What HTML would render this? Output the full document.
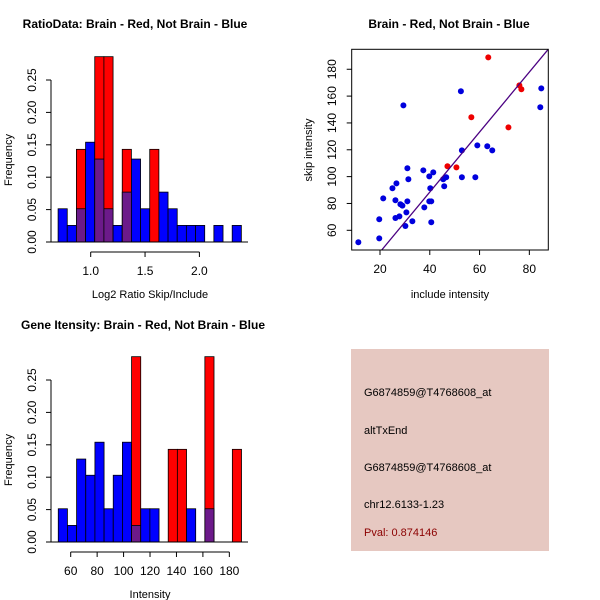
<!DOCTYPE html>
<html><head><meta charset="utf-8"><style>
html,body{margin:0;padding:0;background:#fff}
svg{display:block;font-family:"Liberation Sans",Helvetica,Arial,sans-serif}
</style></head><body>
<svg id="c" width="600" height="600" viewBox="0 0 600 600" xmlns="http://www.w3.org/2000/svg"></svg>
<script>
// ---- Ratio histogram data ----
const ratioStart = 0.70;
const ratioBinWidth = 0.0843;
const ratioBlue = [0.0513,0.0256,0.0513,0.154,0.128,0.0513,0.0256,0.077,0.128,0.0513,0,0.077,0.0513,0.0256,0.0256,0.0256,0,0.0256,0,0.0256];
const ratioRed  = [0,0,0.143,0,0.286,0.286,0,0.143,0,0,0.143,0,0,0,0,0,0,0,0,0];
const ratioXTicks = [1.0,1.5,2.0];
const freqTicks = [0,0.05,0.10,0.15,0.20,0.25];
const freqTickLabels = ["0.00","0.05","0.10","0.15","0.20","0.25"];
// ---- Scatter data ----
const blueX = [11.3,19.7,19.7,21.3,25.0,26.6,26.2,26.2,27.8,28.2,29.0,29.4,30.6,31.0,31.0,31.4,30.2,33.0,37.4,37.8,39.8,40.2,39.8,40.6,40.6,41.4,45.4,45.8,46.6,52.9,52.5,52.9,58.3,59.1,63.1,65.1,84.8,84.4];
const blueY = [51.1,54.0,68.2,83.8,91.3,95.0,82.4,69.2,70.4,79.4,78.4,153.1,73.4,81.6,106.2,98.0,63.2,66.7,104.7,77.1,100.2,91.3,81.6,81.6,66.0,103.2,98.0,92.8,99.5,119.6,163.6,99.5,99.5,123.3,122.6,119.6,165.8,151.7];
const redX = [47.1,50.7,56.7,63.5,71.6,76.0,76.8];
const redY = [107.7,106.9,144.2,188.9,136.7,168.0,165.1];
const fitSlope = 2.235, fitIntercept = -0.9;
const scatXTicks = [20,40,60,80];
const scatYTicks = [60,80,100,120,140,160,180];
// ---- Intensity histogram data ----
const intStart = 50.6;
const intBinWidth = 6.93;
const intBlue = [0.0513,0.0256,0.128,0.103,0.154,0.0513,0.103,0.154,0.0256,0.0513,0.0513,0,0,0,0.0513,0,0.0513,0,0,0];
const intRed  = [0,0,0,0,0,0,0,0,0.286,0,0,0,0.143,0.143,0,0,0.286,0,0,0.143];
const intXTicks = [60,80,100,120,140,160,180];

const NS="http://www.w3.org/2000/svg";
const svg=document.getElementById('c');
function mk(tag,attrs,parent){const e=document.createElementNS(NS,tag);for(const k in attrs)e.setAttribute(k,attrs[k]);(parent||svg).appendChild(e);return e;}
function txt(s,x,y,o,parent){o=o||{};const t=mk('text',{x:x,y:y,'font-size':o.fs||11,'text-anchor':o.anchor||'middle',fill:o.fill||'#000','font-weight':o.bold?'bold':'normal'},parent);if(o.rot)t.setAttribute('transform','rotate(-90 '+x+' '+y+')');t.textContent=s;return t;}

function histogram(g,opts,start,bw,blue,red,xticks,xfmt){
  const X=v=>opts.x0+(v-opts.v0)*opts.xs;
  const Y=v=>opts.y0-v*opts.ys;
  for(let i=0;i<blue.length;i++){
    const a=X(start+i*bw), b=X(start+(i+1)*bw);
    const hb=blue[i], hr=red[i];
    const top=Math.max(hb,hr), low=Math.min(hb,hr);
    if(top<=0) continue;
    const col = hr>hb?'#ff0000':'#0000ff';
    const r=mk('rect',{x:a,y:Y(top),width:b-a,height:Y(0)-Y(top),fill:col,stroke:'#000','stroke-width':0.8},g);
    
    
    if(low>0){
      const p=mk('rect',{x:a,y:Y(low),width:b-a,height:Y(0)-Y(low),fill:'#6c1a8a',stroke:'#000','stroke-width':0.8},g);
      
      
    }
  }
  mk('line',{x1:opts.yAxisX,x2:opts.yAxisX,y1:Y(0),y2:Y(0.25),stroke:'#000'},g);
  freqTicks.forEach((v,i)=>{mk('line',{x1:opts.yAxisX-5,x2:opts.yAxisX,y1:Y(v),y2:Y(v),stroke:'#000'},g);txt(freqTickLabels[i],opts.yAxisX-15,Y(v),{rot:true,fs:12},g);});
  mk('line',{x1:opts.baseX1,x2:opts.baseX2,y1:Y(0),y2:Y(0),stroke:'#000'},g);
  const ax=Y(0)+10;
  mk('line',{x1:X(xticks[0]),x2:X(xticks[xticks.length-1]),y1:ax,y2:ax,stroke:'#000'},g);
  xticks.forEach(v=>{mk('line',{x1:X(v),x2:X(v),y1:ax,y2:ax+5,stroke:'#000'},g);txt(xfmt(v),X(v),ax+23,{fs:12},g);});
}

// Panel 1
const g1=mk('g',{});
txt('RatioData: Brain - Red, Not Brain - Blue',135,28,{bold:true,fs:12},g1);
histogram(g1,{x0:90.7,v0:1.0,xs:108.7,y0:242,ys:648,yAxisX:51,baseX1:51,baseX2:248},ratioStart,ratioBinWidth,ratioBlue,ratioRed,ratioXTicks,v=>v.toFixed(1));
txt('Log2 Ratio Skip/Include',150,298,{fs:11},g1);
txt('Frequency',12,160,{rot:true,fs:11},g1);

// Panel 2 scatter
const g2=mk('g',{});
txt('Brain - Red, Not Brain - Blue',449,28,{bold:true,fs:12},g2);
const SX=v=>380+(v-20)*2.489, SY=v=>230.3-(v-60)*1.342;
const clip=mk('clipPath',{id:'cl'},g2);mk('rect',{x:351.7,y:49.3,width:196.6,height:200.7},clip);
const pts=mk('g',{'clip-path':'url(#cl)'},g2);
blueX.forEach((x,i)=>{const c=mk('circle',{cx:SX(x),cy:SY(blueY[i]),r:3,fill:'#0000dd'},pts);});
redX.forEach((x,i)=>{const c=mk('circle',{cx:SX(x),cy:SY(redY[i]),r:3,fill:'#ee0000'},pts);});
const fl=mk('line',{x1:SX(0),y1:SY(fitIntercept),x2:SX(100),y2:SY(fitIntercept+fitSlope*100),stroke:'#4b0082','stroke-width':1.3},pts);

mk('rect',{x:351.7,y:49.3,width:196.6,height:200.7,fill:'none',stroke:'#000'},g2);
scatXTicks.forEach(v=>{mk('line',{x1:SX(v),x2:SX(v),y1:250,y2:255,stroke:'#000'},g2);txt(String(v),SX(v),273,{fs:12},g2);});
scatYTicks.forEach(v=>{mk('line',{x1:346.7,x2:351.7,y1:SY(v),y2:SY(v),stroke:'#000'},g2);txt(String(v),336,SY(v),{rot:true,fs:12},g2);});
txt('include intensity',450,298,{fs:11},g2);
txt('skip intensity',312,150,{rot:true,fs:11},g2);

// Panel 3
const g3=mk('g',{});
txt('Gene Itensity: Brain - Red, Not Brain - Blue',143,329,{bold:true,fs:12},g3);
histogram(g3,{x0:70.7,v0:60,xs:1.322,y0:542,ys:648,yAxisX:51,baseX1:51,baseX2:248},intStart,intBinWidth,intBlue,intRed,intXTicks,v=>String(v));
txt('Intensity',150,598,{fs:11},g3);
txt('Frequency',12,460,{rot:true,fs:11},g3);

// Panel 4 info box
const g4=mk('g',{});
mk('rect',{x:351,y:349,width:198,height:202,fill:'#e6c8c1'},g4);
const lines=[['G6874859@T4768608_at',396,'#000'],['altTxEnd',434,'#000'],['G6874859@T4768608_at',471,'#000'],['chr12.6133-1.23',508,'#000'],['Pval: 0.874146',536,'#8b0000']];
lines.forEach(l=>txt(l[0],364,l[1],{anchor:'start',fs:11,fill:l[2]},g4));
</script>
</body></html>
